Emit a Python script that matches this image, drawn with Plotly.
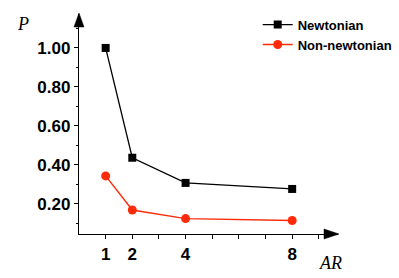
import plotly.graph_objects as go

ar = [1, 2, 4, 8]
newtonian = [1.00, 0.437, 0.308, 0.277]
non_newtonian = [0.344, 0.169, 0.125, 0.115]
x_tickvals = [1, 2, 3, 4, 5, 6, 7, 8, 9]
x_ticktext = ["1", "2", "", "4", "", "", "", "8", ""]
y_tickvals = [0.2, 0.4, 0.6, 0.8, 1.0]
y_ticktext = ["0.20", "0.40", "0.60", "0.80", "1.00"]

XMIN, XMAX = 0.0, 9.72
YMIN, YMAX = 0.046, 1.174
RED = "#ff2a0a"

W, H = 399, 278
ML, MR, MT, MB = 79, 61, 14, 44
PW, PH = W - ML - MR, H - MT - MB


def px_to_paper(px, py):
    return (px - ML) / PW, (H - MB - py) / PH


def tri_path(points):
    pts = [px_to_paper(*p) for p in points]
    return "M " + " L ".join(f"{x:.5f} {y:.5f}" for x, y in pts) + " Z"


fig = go.Figure()
fig.add_trace(go.Scatter(x=ar, y=newtonian, name="Newtonian", mode="lines+markers",
                         line=dict(color="black", width=1.3),
                         marker=dict(symbol="square", size=8, color="black")))
fig.add_trace(go.Scatter(x=ar, y=non_newtonian, name="Non-newtonian", mode="lines+markers",
                         line=dict(color=RED, width=1.4),
                         marker=dict(symbol="circle", size=9, color=RED)))

tickfont = dict(family="Liberation Sans, Arial", size=17, color="black", weight="bold")

fig.update_layout(
    width=W, height=H,
    margin=dict(l=ML, r=MR, t=MT, b=MB, autoexpand=False),
    paper_bgcolor="white", plot_bgcolor="white",
    showlegend=True,
    legend=dict(x=0.69, y=1.02, xanchor="left", yanchor="top",
                font=dict(family="Liberation Sans, Arial", size=13, color="black", weight="bold"),
                bgcolor="rgba(0,0,0,0)", tracegroupgap=0, itemwidth=30),
    xaxis=dict(range=[XMIN, XMAX], showgrid=False, zeroline=False, showline=True,
               automargin=False,
               linecolor="black", linewidth=1.3, ticks="outside", ticklen=4, tickwidth=1,
               tickcolor="black", tickvals=x_tickvals, ticktext=x_ticktext,
               tickfont=tickfont, ticklabelstandoff=0),
    yaxis=dict(range=[YMIN, YMAX], showgrid=False, zeroline=False, showline=True,
               automargin=False,
               linecolor="black", linewidth=1.3, ticks="outside", ticklen=4, tickwidth=1,
               tickcolor="black", tickvals=y_tickvals, ticktext=y_ticktext,
               tickfont=tickfont,
               minor=dict(tickvals=[0.1, 0.3, 0.5, 0.7, 0.9, 1.1], ticks="outside",
                          ticklen=2, tickcolor="black", tickwidth=1)),
)

# arrowheads at axis ends (pixel geometry converted to paper coordinates)
x_axis_y = H - MB
y_axis_x = ML
x_tip = W - MR + 1
y_tip = MT - 1
fig.add_shape(type="path", xref="paper", yref="paper",
              path=tri_path([(x_tip - 15, x_axis_y - 5), (x_tip, x_axis_y), (x_tip - 15, x_axis_y + 5)]),
              fillcolor="black", line=dict(color="black", width=0.5), layer="above")
fig.add_shape(type="path", xref="paper", yref="paper",
              path=tri_path([(y_axis_x - 5, y_tip + 14), (y_axis_x, y_tip), (y_axis_x + 5, y_tip + 14)]),
              fillcolor="black", line=dict(color="black", width=0.5), layer="above")

fig.add_annotation(text="P", xref="paper", yref="paper", x=-0.215, y=0.955,
                   xanchor="center", yanchor="middle", showarrow=False,
                   font=dict(family="Liberation Serif, Times New Roman", size=18,
                             color="black", style="italic"))
fig.add_annotation(text="AR", xref="paper", yref="paper", x=0.97, y=-0.13,
                   xanchor="center", yanchor="middle", showarrow=False,
                   font=dict(family="Liberation Serif, Times New Roman", size=18,
                             color="black", style="italic"))

fig.write_html("out.html", config={"displayModeBar": False},
               post_script="document.body.style.margin='0';")
